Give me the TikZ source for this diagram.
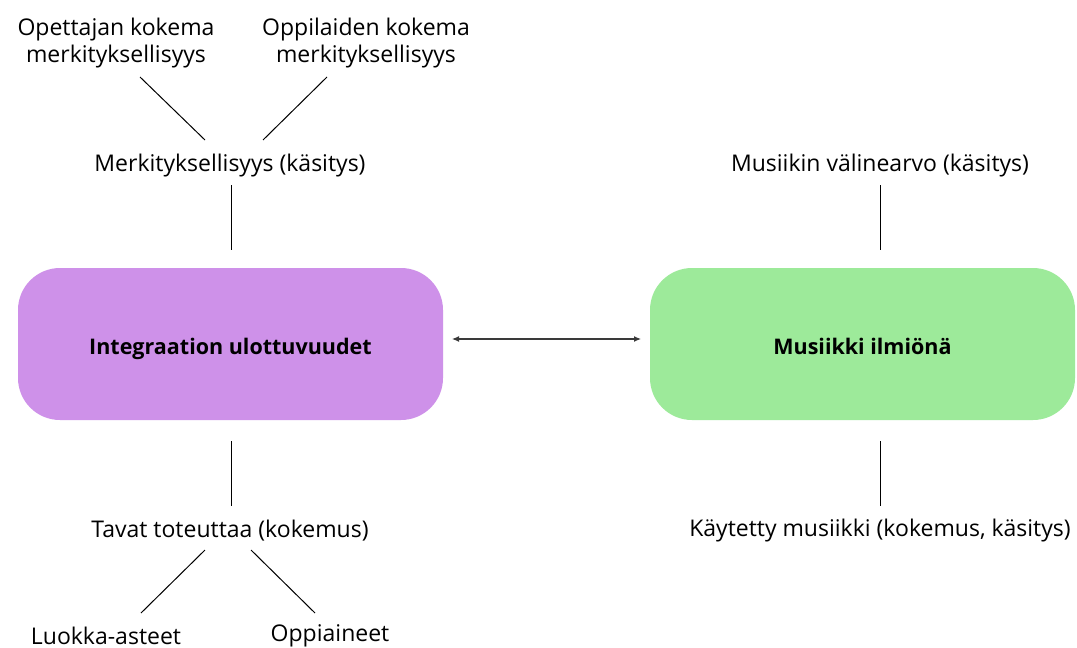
\documentclass[tikz,border=0pt]{standalone}
\usepackage{fontspec}
\setmainfont{Open Sans}
\usetikzlibrary{arrows.meta}
\definecolor{purplebox}{HTML}{CE91E9}
\definecolor{greenbox}{HTML}{9DEA9A}
\definecolor{arrowgray}{HTML}{3A3A3A}
\begin{document}
\begin{tikzpicture}[x=1pt,y=-1pt,
  lbl/.style={font=\fontsize{23}{27}\selectfont, align=center, inner sep=0pt, text=black},
  mainbox/.style={rounded corners=42pt, minimum width=425pt, minimum height=152pt, inner sep=0pt, font=\bfseries\fontsize{21.5}{24}\selectfont},
  conn/.style={draw=black, line width=1pt},
  dbl/.style={draw=arrowgray, line width=1.2pt, {Latex[length=7pt,width=6pt]}-{Latex[length=7pt,width=6pt]}}
]
\useasboundingbox (0,0) rectangle (1077,648);
\fill[white] (0,0) rectangle (1077,648);

\node[mainbox, fill=purplebox] (L) at (230.5,344) {\raisebox{-10pt}[0pt][0pt]{Integraation ulottuvuudet}};
\node[mainbox, fill=greenbox] (R) at (862.5,344) {\raisebox{-10pt}[0pt][0pt]{Musiikki ilmiönä}};

\node[lbl] (opet) at (116,43) {Opettajan kokema\\merkityksellisyys};
\node[lbl] (oppi) at (366,43) {Oppilaiden kokema\\merkityksellisyys};
\node[lbl] (merk) at (230,166) {Merkityksellisyys (käsitys)};
\node[lbl] (tav) at (230,531) {Tavat toteuttaa (kokemus)};
\node[lbl] (luok) at (106,636) {Luokka-asteet};
\node[lbl] (oppa) at (330,636) {Oppiaineet};
\node[lbl] (mus) at (880,166) {Musiikin välinearvo (käsitys)};
\node[lbl] (kay) at (880,531) {Käytetty musiikki (kokemus, käsitys)};

\coordinate (a1) at (140,77); \coordinate (a2) at (205,140);
\coordinate (b1) at (327,77); \coordinate (b2) at (263,140);
\coordinate (c1) at (231,185); \coordinate (c2) at (231,250);
\coordinate (d1) at (231,441); \coordinate (d2) at (231,506);
\coordinate (e1) at (205,550); \coordinate (e2) at (141,613);
\coordinate (f1) at (251,550); \coordinate (f2) at (315,613);
\coordinate (g1) at (880,185); \coordinate (g2) at (880,250);
\coordinate (h1) at (880,441); \coordinate (h2) at (880,506);
\coordinate (ar1) at (452,339); \coordinate (ar2) at (641,339);

\draw[conn] (a1) -- (a2);
\draw[conn] (b1) -- (b2);
\draw[conn] (c1) -- (c2);
\draw[conn] (d1) -- (d2);
\draw[conn] (e1) -- (e2);
\draw[conn] (f1) -- (f2);
\draw[conn] (g1) -- (g2);
\draw[conn] (h1) -- (h2);
\draw[dbl] (ar1) -- (ar2);
\end{tikzpicture}
\end{document}
